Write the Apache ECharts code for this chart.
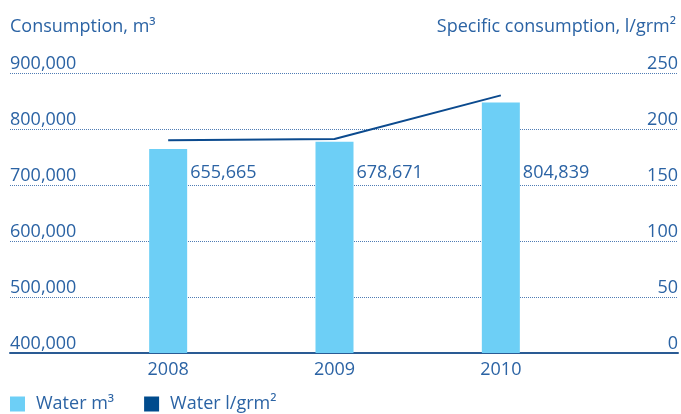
<!DOCTYPE html>
<html>
<head>
<meta charset="utf-8">
<script src="https://cdn.jsdelivr.net/npm/echarts@6/dist/echarts.min.js"></script>
<style>html,body{margin:0;padding:0;background:#fff}#c{width:681px;height:414px}</style>
</head>
<body>
<div id="c"></div>
<script>
var years = ['2008', '2009', '2010'];
var waterM3 = [655665, 678671, 804839];
var waterSpecific = [190, 191, 230];
var leftTicks = [400000, 500000, 600000, 700000, 800000, 900000];
var rightTicks = [0, 50, 100, 150, 200, 250];

var TXT = '#2b63a4';
var FONT = 'Open Sans';
function fmt(v) { return Number(v).toLocaleString('en-US'); }

var chart = echarts.init(document.getElementById('c'));
chart.setOption({
  animation: false,
  textStyle: { fontFamily: FONT },
  title: [
    { text: 'Consumption, m³', left: 10, top: 18, padding: 0, textStyle: { fontFamily: FONT, fontSize: 18, fontWeight: 'normal', color: TXT } },
    { text: 'Specific consumption, l/grm²', right: 5, top: 18, padding: 0, textStyle: { fontFamily: FONT, fontSize: 18, fontWeight: 'normal', color: TXT } }
  ],
  legend: {
    left: 10, top: 395, padding: 0, icon: 'rect', itemWidth: 15, itemHeight: 15, itemGap: 30,
    textStyle: { fontFamily: FONT, fontSize: 18, color: TXT, padding: [0, 0, 0, 6] },
    data: ['Water m³', 'Water l/grm²']
  },
  grid: [
    { left: 10, right: 2, top: 73, bottom: 61 },
    { left: 85, right: 97, top: 73, bottom: 61 }
  ],
  xAxis: [
    { type: 'category', gridIndex: 0, data: [''], axisLine: { show: true, lineStyle: { color: '#2a5b94', width: 2 } }, axisTick: { show: false }, axisLabel: { show: false } },
    { type: 'category', gridIndex: 1, data: years, axisLine: { show: false }, axisTick: { show: false },
      axisLabel: { color: TXT, fontSize: 18, fontFamily: FONT, margin: 8 } }
  ],
  yAxis: [
    { type: 'value', gridIndex: 0, position: 'left', min: leftTicks[0], max: leftTicks[leftTicks.length - 1], interval: leftTicks[1] - leftTicks[0],
      axisLine: { show: false }, axisTick: { show: false },
      splitLine: { show: true, lineStyle: { type: [1, 1], color: '#4f7cb4', width: 1 } },
      axisLabel: { inside: true, margin: 0, verticalAlign: 'bottom', color: TXT, fontSize: 18, fontFamily: FONT, formatter: fmt } },
    { type: 'value', gridIndex: 0, position: 'right', min: rightTicks[0], max: rightTicks[rightTicks.length - 1], interval: rightTicks[1] - rightTicks[0],
      axisLine: { show: false }, axisTick: { show: false }, splitLine: { show: false },
      axisLabel: { inside: true, margin: 0, verticalAlign: 'bottom', color: TXT, fontSize: 18, fontFamily: FONT } },
    { type: 'value', gridIndex: 1, min: 0, max: 900000, show: false },
    { type: 'value', gridIndex: 1, min: rightTicks[0], max: rightTicks[rightTicks.length - 1], show: false }
  ],
  series: [
    { name: 'Water m³', type: 'bar', xAxisIndex: 1, yAxisIndex: 2, data: waterM3, barWidth: 38,
      itemStyle: { color: '#6dcff6' },
      label: { show: true, position: 'right', distance: 3, color: TXT, fontSize: 18, fontFamily: FONT, formatter: function (p) { return fmt(p.value); } },
      labelLayout: function (p) { return { y: p.rect.y + p.rect.height - 189 }; },
      z: 2 },
    { name: 'Water l/grm²', type: 'line', xAxisIndex: 1, yAxisIndex: 3, data: waterSpecific, symbol: 'none',
      lineStyle: { color: '#0b4a8e', width: 2 }, itemStyle: { color: '#004b8d' }, z: 3 }
  ]
});
</script>
</body>
</html>
